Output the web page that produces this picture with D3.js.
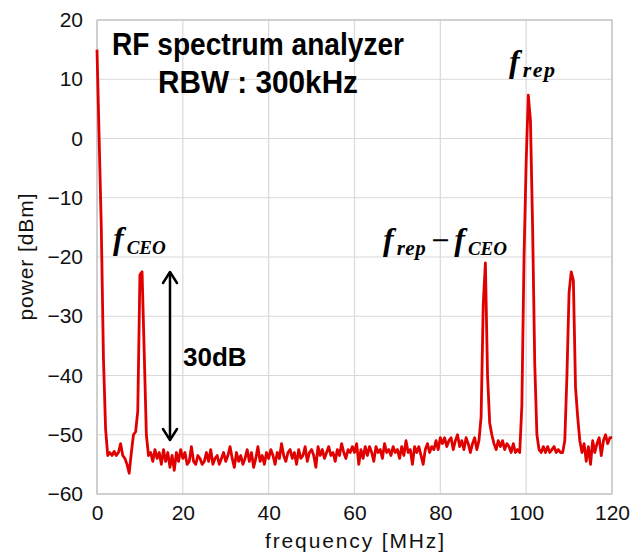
<!DOCTYPE html>
<html>
<head>
<meta charset="utf-8">
<script src="https://cdn.jsdelivr.net/npm/d3@7"></script>
<style>
  body { margin: 0; background: #fff; }
</style>
</head>
<body>
<svg id="chart" width="643" height="554"></svg>
<script>
// spectrum trace, 0 .. 120 MHz every 0.5 MHz
const FREQ_START = 0;
const FREQ_STEP = 0.5;
const powerDbm = [
  15, 0, -15, -37, -49, -53.5, -53, -53.5, -52.8, -53.5,
  -53, -51.5, -53.5, -54, -55, -56.5, -53, -50, -49.5, -46,
  -23, -22.5, -36, -50, -53.5, -53, -54.5, -52.5, -54, -53,
  -55, -52.5, -54.5, -53, -55.5, -53.5, -56, -53, -54.5, -52.5,
  -54, -53, -55, -54.5, -52, -54.5, -55, -53.5, -54, -55,
  -54.5, -53, -54.5, -52.5, -55, -54, -53.5, -55, -54, -53,
  -54.5, -53.5, -52, -54, -55.5, -53, -54.5, -53.5, -55, -54,
  -52.5, -54.5, -53, -55.5, -54, -52, -54.5, -53.5, -55, -53,
  -54, -52.5, -53.5, -55, -53, -54, -51.5, -53.5, -54.5, -53,
  -52.5, -54, -53, -55, -52.5, -54, -53.5, -52, -54.5, -53,
  -52.5, -53.5, -55.5, -52, -53.5, -52.5, -54, -53, -52, -53.5,
  -53, -54.5, -52.5, -53.5, -51.5, -53, -54, -52.5, -53, -52,
  -53, -51.5, -55, -52.5, -54, -52, -53.5, -52, -53, -54.5,
  -52, -53, -52.5, -54, -51.5, -53, -52.5, -53.5, -52, -53,
  -52.5, -54, -52, -53.5, -51, -53, -52.5, -55, -52, -53,
  -52, -53.5, -55, -52.5, -51.5, -53, -52, -52.5, -51, -52.5,
  -50.5, -51.5, -50.5, -52, -51, -50.5, -52.5, -51, -50, -52,
  -51, -52.5, -50.5, -51.5, -53, -51.5, -50.5, -52.5, -51, -47,
  -28, -21, -40, -48, -50, -51.5, -52.5, -51, -52, -51,
  -52.5, -51.5, -52, -53, -51.5, -53, -52.5, -53, -45, -20,
  -4, 7.3, 3, -15, -38, -50, -52.5, -53, -52, -53,
  -52, -53, -52.5, -52, -53, -52.5, -53, -53, -51, -40,
  -26, -22.5, -24, -42, -47, -51, -53, -51.5, -54.5, -52,
  -55, -51, -53, -51.5, -50.5, -53.5, -51, -50, -51.5, -50.5,
  -50.5
];

const xTicks = [0, 20, 40, 60, 80, 100, 120];
const yTicks = [-60, -50, -40, -30, -20, -10, 0, 10, 20];

const titleLines = ["RF spectrum analyzer", "RBW : 300kHz"];
const xLabel = "frequency [MHz]";
const yLabel = "power [dBm]";

const SANS = "'Liberation Sans', Arial, sans-serif";
const SERIF = "'Liberation Serif', 'DejaVu Serif', serif";

const margin = {top: 20, right: 31, bottom: 60, left: 97};
const width = 643 - margin.left - margin.right;
const height = 554 - margin.top - margin.bottom;

const svg = d3.select("#chart").style("font-family", SANS);
const g = svg.append("g")
    .attr("transform", "translate(" + margin.left + "," + margin.top + ")");

const xScale = d3.scaleLinear().domain([0, 120]).range([0, width]);
const yScale = d3.scaleLinear().domain([-60, 20]).range([height, 0]);

// grid
g.append("g")
    .selectAll("line")
    .data(xTicks)
    .enter()
    .append("line")
        .attr("x1", d => xScale(d)).attr("x2", d => xScale(d))
        .attr("y1", 0).attr("y2", height)
        .attr("stroke", "#d9d9d9").attr("stroke-width", 1.2);

g.append("g")
    .selectAll("line")
    .data(yTicks)
    .enter()
    .append("line")
        .attr("x1", 0).attr("x2", width)
        .attr("y1", d => yScale(d)).attr("y2", d => yScale(d))
        .attr("stroke", "#d9d9d9").attr("stroke-width", 1.2);

g.append("rect")
    .attr("width", width).attr("height", height)
    .attr("fill", "none").attr("stroke", "#bfbfbf").attr("stroke-width", 1.2);

// axes (labels only)
const xAxis = g.append("g")
    .attr("transform", "translate(0," + height + ")")
    .call(d3.axisBottom(xScale).tickValues(xTicks).tickSize(0).tickPadding(11));
const yAxis = g.append("g")
    .call(d3.axisLeft(yScale).tickValues(yTicks).tickSize(0).tickPadding(14));
[xAxis, yAxis].forEach(a => {
    a.select(".domain").remove();
    a.selectAll("text")
        .style("font-family", SANS)
        .style("font-size", "21px")
        .attr("fill", "#111");
});

svg.append("text")
    .attr("x", margin.left + width / 2).attr("y", 548)
    .attr("text-anchor", "middle")
    .style("font-size", "21px").attr("fill", "#111")
    .attr("textLength", 179).attr("lengthAdjust", "spacing")
    .text(xLabel);

svg.append("text")
    .attr("transform", "translate(33," + (margin.top + height / 2) + ")rotate(-90)")
    .attr("text-anchor", "middle")
    .style("font-size", "21px").attr("fill", "#111")
    .attr("textLength", 127).attr("lengthAdjust", "spacing")
    .text(yLabel);

// trace
const line = d3.line()
    .x((d, i) => xScale(FREQ_START + i * FREQ_STEP))
    .y(d => yScale(d));

g.append("path")
    .datum(powerDbm)
    .attr("d", line)
    .attr("fill", "none")
    .attr("stroke", "#e00000")
    .attr("stroke-width", 2.8)
    .attr("stroke-linejoin", "round");

// title block
svg.append("text")
    .attr("x", 258).attr("y", 55)
    .attr("text-anchor", "middle")
    .style("font-size", "31px").style("font-weight", "bold").attr("fill", "#000")
    .attr("textLength", 292).attr("lengthAdjust", "spacingAndGlyphs")
    .text(titleLines[0]);
svg.append("text")
    .attr("x", 258).attr("y", 93)
    .attr("text-anchor", "middle")
    .style("font-size", "31px").style("font-weight", "bold").attr("fill", "#000")
    .attr("textLength", 200).attr("lengthAdjust", "spacingAndGlyphs")
    .text(titleLines[1]);

// math labels
function fLabel(x, y, parts) {
    let t = svg.append("text")
        .attr("x", x).attr("y", y)
        .style("font-family", SERIF)
        .style("font-style", "italic").style("font-weight", "bold")
        .attr("fill", "#000");
    parts.forEach(p => {
        let s = t.append("tspan")
            .style("font-size", (p.size || 32) + "px")
            .style("font-weight", p.plain ? "normal" : "bold")
            .style("font-style", p.plain ? "normal" : "italic")
            .attr("dy", p.dy || 0)
            .attr("dx", p.dx || 0)
            .text(p.s);
        if (p.ls) s.style("letter-spacing", p.ls + "px");
        if (p.plain) s.style("font-family", "'DejaVu Sans', sans-serif");
    });
}
fLabel(509, 72, [{s: "f"}, {s: "rep", size: 22, ls: 1.5, dy: 5, dx: 3}]);
fLabel(113, 249, [{s: "f"}, {s: "CEO", size: 19, dy: 5, dx: 3}]);
fLabel(383, 250, [
    {s: "f"}, {s: "rep", size: 21, ls: 0.5, dy: 5, dx: 3},
    {s: "\u2212", size: 24, dy: -7, dx: 4, plain: true},
    {s: "f", dy: 2, dx: 4}, {s: "CEO", size: 19, dy: 5, dx: 3}
]);

// 30 dB arrow
const arrowX = 170, arrowTop = 272, arrowBot = 440;
svg.append("line")
    .attr("x1", arrowX).attr("x2", arrowX)
    .attr("y1", arrowTop + 1).attr("y2", arrowBot - 1)
    .attr("stroke", "#000").attr("stroke-width", 2.5);
svg.append("path")
    .attr("d", `M${arrowX - 7},${arrowTop + 11}L${arrowX},${arrowTop}L${arrowX + 7},${arrowTop + 11}` +
               `M${arrowX - 7},${arrowBot - 11}L${arrowX},${arrowBot}L${arrowX + 7},${arrowBot - 11}`)
    .attr("fill", "none").attr("stroke", "#000").attr("stroke-width", 2.5)
    .attr("stroke-linecap", "round").attr("stroke-linejoin", "round");

svg.append("text")
    .attr("x", 183).attr("y", 366)
    .style("font-size", "26px").style("font-weight", "bold").attr("fill", "#000")
    .text("30dB");
</script>
</body>
</html>
